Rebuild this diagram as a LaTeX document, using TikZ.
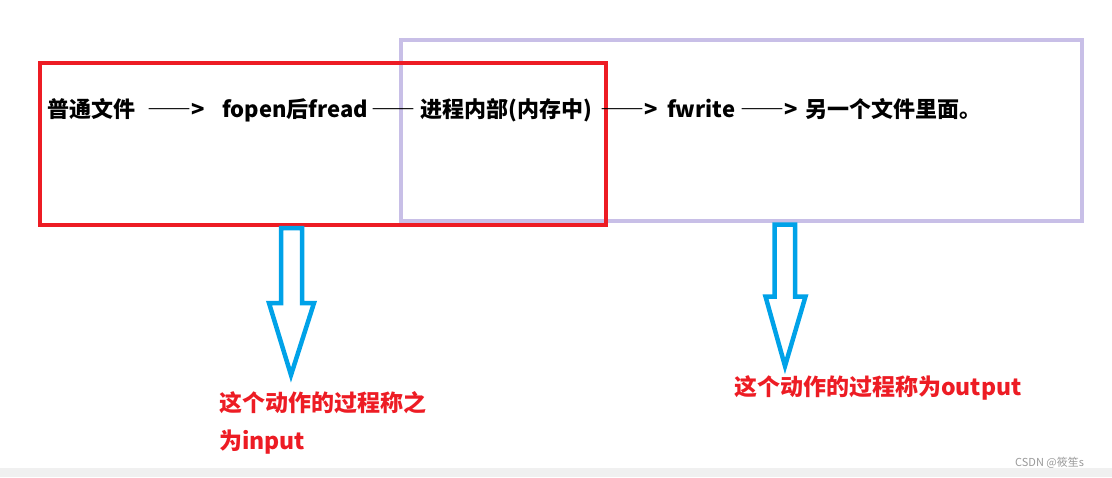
\documentclass[tikz,border=0pt]{standalone}
\usepackage{fontspec}
\newfontfamily\cjk{Noto Sans CJK SC}
\newcommand\wdash{{\addfontfeature{CharacterWidth=Full}——}}
\definecolor{boxRed}{HTML}{ED1C24}
\definecolor{boxLilac}{HTML}{C8BFE7}
\definecolor{arrowBlue}{HTML}{00A2E8}
\definecolor{stripGray}{HTML}{F0F0F0}
\definecolor{markGray}{HTML}{999999}
\begin{document}
\begin{tikzpicture}
[x=1pt, y=-1pt,
txt/.style={anchor=base west, inner sep=0pt, font=\cjk\bfseries\fontsize{22}{26}\selectfont},
note/.style={txt, text=boxRed, font=\cjk\bfseries\fontsize{23}{27}\selectfont},
frame/.style={draw, line width=4pt},
hollow/.style={draw=arrowBlue, line width=4.5pt, line join=miter}
]
\useasboundingbox (0,0) rectangle (1112,477);
\fill[stripGray] (0,468) rectangle (1112,477);

% the two frames
\draw[frame, draw=boxLilac] (401,40) rectangle (1082,221);
\draw[frame, draw=boxRed] (40,63) rectangle (606,225);

% main line of text
\node[txt] (file) at (47,117) {普通文件};
\node[txt] (dashA) at (147,117) {\wdash>};
\node[txt] (fread) at (222,117) {fopen后fread};
\node[txt] (dashB) at (371,117) {\wdash};
\node[txt] (proc) at (420,117) {进程内部(内存中)};
\node[txt] (dashC) at (600,117) {\wdash>};
\node[txt] (fwrite) at (667,117) {fwrite};
\node[txt] (dashD) at (740,117) {\wdash>};
\node[txt] (other) at (805,117) {另一个文件里面。};

% hollow arrows
\draw[hollow] (281,228) -- (302,228) -- (302,303) -- (314,303) -- (291,375)
  -- (269,303) -- (281,303) -- cycle;
\draw[hollow] (774.5,224.5) -- (795,224.5) -- (795,296.5) -- (805.5,296.5)
  -- (785,366) -- (765.5,296.5) -- (774.5,296.5) -- cycle;

% notes
\node[note] (inA) at (219,411) {这个动作的过程称之};
\node[note] (inB) at (219,449) {为input};
\node[note] (out) at (734,395) {这个动作的过程称为output};

\node[anchor=base west, inner sep=0pt, text=markGray, font=\cjk\fontsize{11}{13}\selectfont]
  (mark) at (1015,466) {CSDN @筱笙s};
\end{tikzpicture}
\end{document}
